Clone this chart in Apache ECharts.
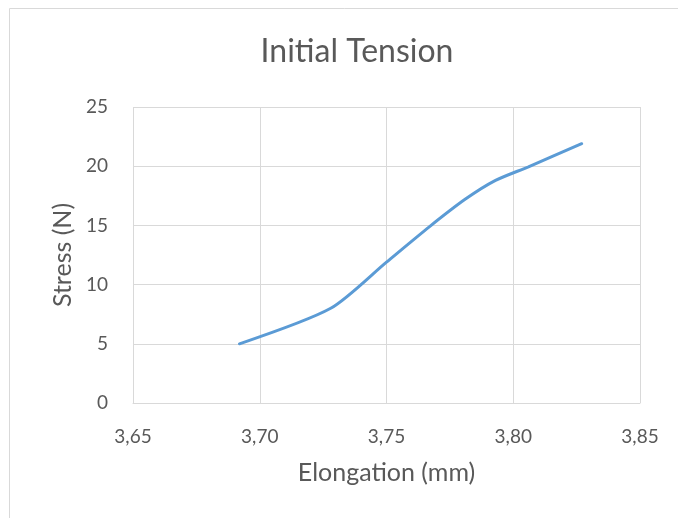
<!DOCTYPE html>
<html>
<head>
<meta charset="utf-8">
<script src="https://cdn.jsdelivr.net/npm/echarts@6/dist/echarts.min.js"></script>
<style>
  html, body { margin: 0; padding: 0; background: #fff; }
  #chart { width: 678px; height: 518px; }
</style>
</head>
<body>
<div id="chart"></div>
<script>
// elongation (mm) vs stress (N)
var elongation = [3.692, 3.728, 3.750, 3.767, 3.781, 3.793, 3.806, 3.827];
var stress = [5.0, 8.0, 11.9, 14.9, 17.2, 18.8, 19.95, 21.9];
var xTicks = { min: 3.65, max: 3.85, step: 0.05 };
var yTicks = { min: 0, max: 25, step: 5 };

var points = elongation.map(function (x, i) { return [x, stress[i]]; });
var font = 'Lato, "Open Sans", sans-serif';
var gray = '#595959';

var chart = echarts.init(document.getElementById('chart'));
chart.setOption({
    animation: false,
    title: {
        text: 'Initial Tension',
        left: 352,
        textAlign: 'center',
        top: 31,
        textStyle: { fontFamily: font, fontSize: 32, fontWeight: 'normal', color: gray }
    },
    graphic: [{
        type: 'rect',
        shape: { x: 9.5, y: 8.5, width: 700, height: 600 },
        style: { fill: 'none', stroke: '#d9d9d9', lineWidth: 1 },
        silent: true
    }],
    grid: { left: 133, right: 38, top: 107, bottom: 115 },
    xAxis: {
        type: 'value',
        min: xTicks.min,
        max: xTicks.max,
        interval: xTicks.step,
        name: 'Elongation (mm)',
        nameLocation: 'middle',
        nameGap: 57,
        nameTextStyle: { fontFamily: font, fontSize: 25, color: gray },
        axisLine: { lineStyle: { color: '#d9d9d9' } },
        axisTick: { show: false },
        axisLabel: {
            fontFamily: font, fontSize: 19, color: gray, margin: 24,
            formatter: function (v) { return v.toFixed(2).replace('.', ','); }
        },
        splitLine: { show: true, lineStyle: { color: '#d9d9d9', width: 1 } }
    },
    yAxis: {
        type: 'value',
        min: yTicks.min,
        max: yTicks.max,
        interval: yTicks.step,
        name: 'Stress (N)',
        nameLocation: 'middle',
        nameGap: 58,
        nameTextStyle: { fontFamily: font, fontSize: 25, color: gray },
        axisLine: { show: false },
        axisTick: { show: false },
        axisLabel: { fontFamily: font, fontSize: 19, color: gray, margin: 25 },
        splitLine: { show: true, lineStyle: { color: '#d9d9d9', width: 1 } }
    },
    series: [{
        type: 'line',
        data: points,
        smooth: 0.25,
        showSymbol: false,
        lineStyle: { color: '#5b9bd5', width: 3, cap: 'round' }
    }]
});
</script>
</body>
</html>
